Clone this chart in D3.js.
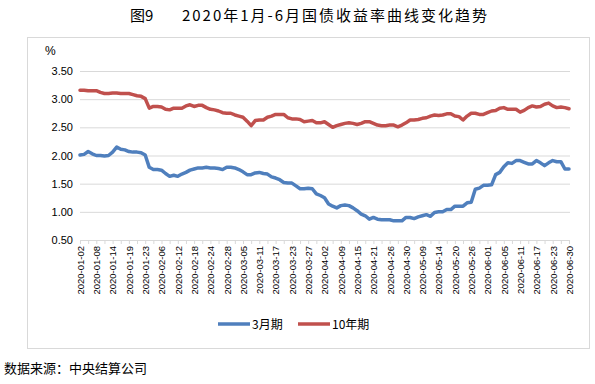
<!DOCTYPE html>
<html>
<head>
<meta charset="utf-8">
<script src="https://cdn.jsdelivr.net/npm/d3@7"></script>
<style>
  body { margin: 0; background: #fff; }
  .grid line { stroke: #d9d9d9; }
  .grid path { display: none; }
  .x-axis path, .x-axis line { stroke: #d9d9d9; }
  .x-axis text { font-family: "Liberation Sans", Arial, sans-serif; font-size: 9.5px; fill: #000; }
  .y-axis path, .y-axis line { display: none; }
  .y-axis text { font-family: "Liberation Sans", Arial, sans-serif; font-size: 11px; fill: #000; }
</style>
</head>
<body>
<div id="chart"></div>
<script>
// trading days, 2020 H1
var dates = [
  "2020-01-02","2020-01-03","2020-01-06","2020-01-07","2020-01-08","2020-01-09","2020-01-10","2020-01-13","2020-01-14","2020-01-15",
  "2020-01-16","2020-01-17","2020-01-19","2020-01-20","2020-01-21","2020-01-22","2020-01-23",
  "2020-02-03","2020-02-04","2020-02-05","2020-02-06","2020-02-07","2020-02-10","2020-02-11","2020-02-12","2020-02-13","2020-02-14",
  "2020-02-17","2020-02-18","2020-02-19","2020-02-20","2020-02-21","2020-02-24","2020-02-25","2020-02-26","2020-02-27","2020-02-28",
  "2020-03-02","2020-03-03","2020-03-04","2020-03-05","2020-03-06","2020-03-09","2020-03-10","2020-03-11","2020-03-12","2020-03-13",
  "2020-03-16","2020-03-17","2020-03-18","2020-03-19","2020-03-20","2020-03-23","2020-03-24","2020-03-25","2020-03-26","2020-03-27",
  "2020-03-30","2020-03-31",
  "2020-04-01","2020-04-02","2020-04-03","2020-04-07","2020-04-08","2020-04-09","2020-04-10","2020-04-13","2020-04-14","2020-04-15",
  "2020-04-16","2020-04-17","2020-04-20","2020-04-21","2020-04-22","2020-04-23","2020-04-24","2020-04-26","2020-04-27","2020-04-28",
  "2020-04-29","2020-04-30",
  "2020-05-06","2020-05-07","2020-05-08","2020-05-09","2020-05-11","2020-05-12","2020-05-13","2020-05-14","2020-05-15","2020-05-18",
  "2020-05-19","2020-05-20","2020-05-21","2020-05-22","2020-05-25","2020-05-26","2020-05-27","2020-05-28","2020-05-29",
  "2020-06-01","2020-06-02","2020-06-03","2020-06-04","2020-06-05","2020-06-08","2020-06-09","2020-06-10","2020-06-11","2020-06-12",
  "2020-06-15","2020-06-16","2020-06-17","2020-06-18","2020-06-19","2020-06-22","2020-06-23","2020-06-24","2020-06-28","2020-06-29",
  "2020-06-30"
];

var tickLabels = [
  "2020-01-02","2020-01-08","2020-01-14","2020-01-19","2020-01-23","2020-02-06","2020-02-12","2020-02-18","2020-02-24","2020-02-28",
  "2020-03-05","2020-03-11","2020-03-17","2020-03-23","2020-03-27","2020-04-02","2020-04-09","2020-04-15","2020-04-21","2020-04-26",
  "2020-04-30","2020-05-09","2020-05-14","2020-05-20","2020-05-26","2020-06-01","2020-06-05","2020-06-11","2020-06-17","2020-06-23",
  "2020-06-30"
];

var yTicks = [0.5, 1.0, 1.5, 2.0, 2.5, 3.0, 3.5];

// 3月期
var m3 = [
  2.01,2.02,2.07,2.03,2.00,2.00,1.99,2.00,2.06,2.15,
  2.11,2.10,2.07,2.06,2.06,2.05,2.01,1.79,1.75,1.75,
  1.74,1.68,1.63,1.65,1.63,1.67,1.70,1.74,1.76,1.78,
  1.78,1.79,1.78,1.78,1.77,1.75,1.79,1.79,1.78,1.75,
  1.71,1.66,1.66,1.69,1.70,1.68,1.67,1.62,1.60,1.57,
  1.52,1.51,1.51,1.46,1.41,1.41,1.42,1.41,1.32,1.29,
  1.25,1.14,1.10,1.07,1.11,1.12,1.11,1.07,1.02,0.96,
  0.93,0.87,0.90,0.87,0.86,0.86,0.86,0.84,0.84,0.84,
  0.90,0.90,0.88,0.91,0.93,0.95,0.92,0.99,1.00,1.00,
  1.04,1.04,1.10,1.10,1.10,1.16,1.17,1.40,1.42,1.47,
  1.47,1.48,1.66,1.70,1.80,1.87,1.86,1.91,1.91,1.88,
  1.85,1.85,1.91,1.87,1.82,1.87,1.91,1.89,1.89,1.76,
  1.76
];

// 10年期
var y10 = [
  3.16,3.16,3.15,3.15,3.15,3.12,3.10,3.10,3.11,3.11,
  3.10,3.10,3.10,3.08,3.06,3.05,3.01,2.84,2.87,2.87,
  2.86,2.82,2.81,2.84,2.84,2.84,2.88,2.90,2.87,2.89,
  2.89,2.85,2.82,2.81,2.79,2.76,2.75,2.75,2.72,2.70,
  2.68,2.61,2.53,2.62,2.63,2.63,2.68,2.70,2.73,2.73,
  2.73,2.67,2.65,2.65,2.64,2.60,2.61,2.62,2.58,2.58,
  2.60,2.55,2.50,2.53,2.55,2.57,2.58,2.57,2.55,2.57,
  2.60,2.60,2.57,2.54,2.53,2.53,2.54,2.54,2.51,2.54,
  2.58,2.63,2.63,2.64,2.66,2.67,2.70,2.72,2.71,2.72,
  2.74,2.74,2.70,2.69,2.63,2.70,2.75,2.75,2.73,2.73,
  2.76,2.79,2.80,2.84,2.85,2.82,2.82,2.82,2.77,2.80,
  2.85,2.88,2.86,2.87,2.91,2.93,2.88,2.85,2.86,2.85,
  2.83
];

var seriesNames = ["3月期", "10年期"];
var seriesColors = ["#4f7fbd", "#c0504d"];

var width = 595, height = 384;

var svg = d3.select("#chart")
  .append("svg")
  .attr("width", width)
  .attr("height", height);

// outer chart frame
svg.append("rect")
  .attr("x", 27.5).attr("y", 37.5)
  .attr("width", 562).attr("height", 311)
  .attr("fill", "none")
  .attr("stroke", "#d9d9d9");

svg.append("text")
  .attr("x", 130).attr("y", 21)
  .style("font-family", "'Noto Sans CJK SC', sans-serif")
  .style("font-size", "15px")
  .text("图9");

svg.append("text")
  .attr("x", 182).attr("y", 21)
  .attr("textLength", 305)
  .attr("lengthAdjust", "spacing")
  .style("font-family", "'Noto Sans CJK SC', sans-serif")
  .style("font-size", "15px")
  .text("2020年1月-6月国债收益率曲线变化趋势");

var xPositionScale = d3.scalePoint().domain(dates).range([80, 569]);
var yPositionScale = d3.scaleLinear().domain([0.5, 3.5]).range([240, 71]);

// horizontal gridlines
svg.append("g")
  .attr("class", "grid")
  .attr("transform", "translate(80,0)")
  .call(d3.axisLeft(yPositionScale)
    .tickValues(yTicks)
    .tickSize(-490)
    .tickFormat(""));

var yAxis = svg.append("g")
  .attr("class", "y-axis")
  .attr("transform", "translate(80,0)")
  .call(d3.axisLeft(yPositionScale)
    .tickValues(yTicks)
    .tickSize(0)
    .tickPadding(7)
    .tickFormat(d3.format(".2f")));

svg.append("text")
  .attr("x", 45).attr("y", 55)
  .style("font-family", "'Liberation Sans', Arial, sans-serif")
  .style("font-size", "12px")
  .text("%");

var xAxis = svg.append("g")
  .attr("class", "x-axis")
  .attr("transform", "translate(0,240)")
  .call(d3.axisBottom(xPositionScale)
    .tickValues(dates.filter(function(d, i) { return i % 2 === 0; }))
    .tickSize(4)
    .tickSizeOuter(0)
    .tickFormat(function(d) { return tickLabels.indexOf(d) >= 0 ? d : ""; }));

xAxis.select(".domain").attr("d", "M80,0.5H569");

xAxis.selectAll("text")
  .attr("transform", "rotate(-90)")
  .attr("text-anchor", "end")
  .attr("x", -6)
  .attr("y", 0)
  .attr("dy", "0.35em");

var line = d3.line()
  .x(function(d, i) { return xPositionScale(dates[i]); })
  .y(function(d) { return yPositionScale(d); });

[m3, y10].forEach(function(values, k) {
  svg.append("path")
    .datum(values)
    .attr("fill", "none")
    .attr("stroke", seriesColors[k])
    .attr("stroke-width", 3.5)
    .attr("stroke-linejoin", "round")
    .attr("stroke-linecap", "round")
    .attr("d", line);
});

// legend
var legend = svg.append("g").attr("class", "legend");
var legendX = [218, 298];
seriesNames.forEach(function(name, k) {
  legend.append("line")
    .attr("x1", legendX[k]).attr("x2", legendX[k] + 32)
    .attr("y1", 324).attr("y2", 324)
    .attr("stroke", seriesColors[k])
    .attr("stroke-width", 3.5);
  legend.append("text")
    .attr("x", legendX[k] + 34).attr("y", 328.5)
    .style("font-family", "'Noto Sans CJK SC', sans-serif")
    .style("font-size", "12px")
    .text(name);
});

svg.append("text")
  .attr("x", 4).attr("y", 373)
  .style("font-family", "'Noto Sans CJK SC', sans-serif")
  .style("font-size", "13px")
  .text("数据来源：中央结算公司");
</script>
</body>
</html>
